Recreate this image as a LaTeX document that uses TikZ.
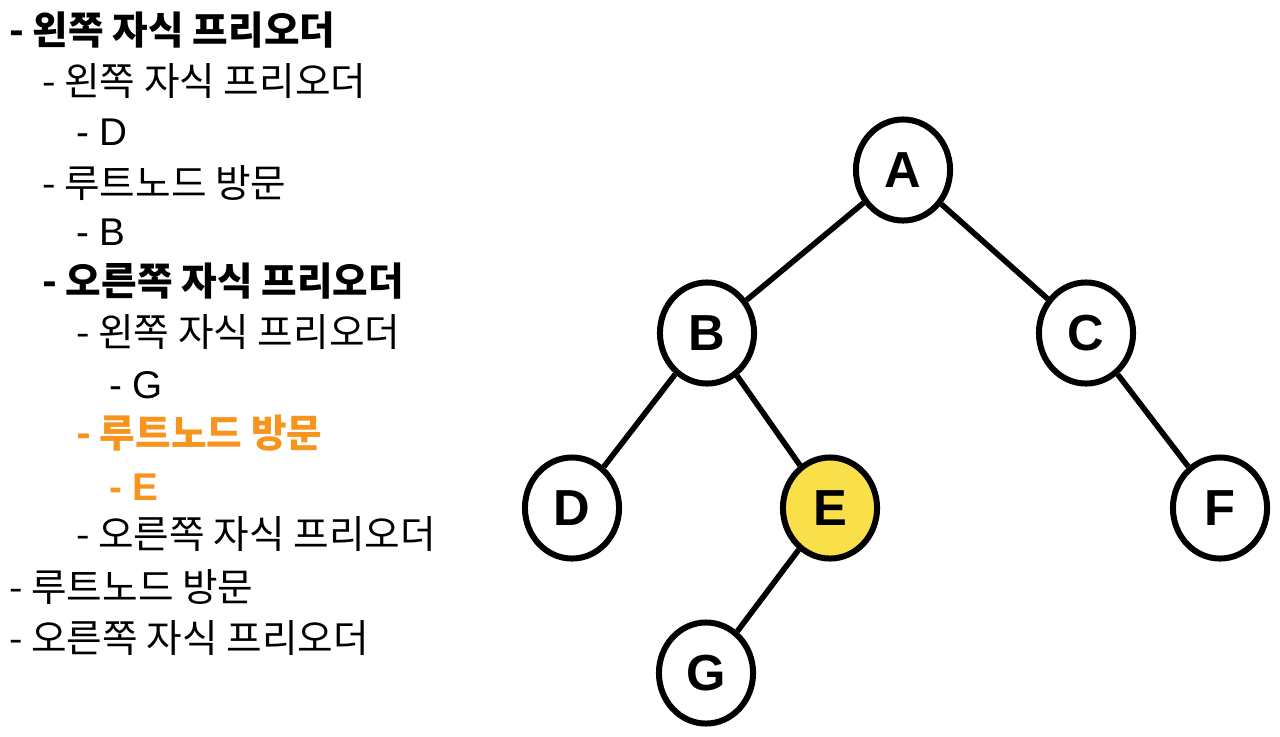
\documentclass[tikz,border=0pt]{standalone}
\usepackage{fontspec}
\setmainfont{Noto Sans CJK KR}
\newfontfamily\latinfont{Liberation Sans}
\definecolor{visitorange}{RGB}{247,148,30}
\definecolor{nodeyellow}{RGB}{249,224,75}
\usepackage{tikz}
\usetikzlibrary{shapes.geometric}

\begin{document}
\begin{tikzpicture}[
            x=0.75pt, y=-0.75pt,
            treenode/.style={draw=black, ellipse, line width=4.5pt, fill=white,
                             minimum width=70.6pt, minimum height=75.8pt, inner sep=0pt,
                             font=\latinfont\bfseries\fontsize{38pt}{40pt}\selectfont},
            edge/.style={line width=4.2pt, color=black},
            listitem/.style={anchor=base west, inner sep=0pt,
                             font=\fontsize{29pt}{32pt}\selectfont},
            boldlist/.style={anchor=base west, inner sep=0pt,
                             font=\bfseries\fontsize{29pt}{32pt}\selectfont},
            letteritem/.style={anchor=base west, inner sep=0pt,
                             font=\latinfont\fontsize{29pt}{32pt}\selectfont},
            visit/.style={text=visitorange}
          ]
          \useasboundingbox (0,0) rectangle (1280,736);
          % traversal steps
          \node[boldlist]   (item1)  at (9,44)    {- 왼쪽 자식 프리오더};
          \node[listitem]   (item2)  at (42,95)   {- 왼쪽 자식 프리오더};
          \node[letteritem] (item3)  at (76,145)  {- D};
          \node[listitem]   (item4)  at (42,197)  {- 루트노드 방문};
          \node[letteritem] (item5)  at (76,245)  {- B};
          \node[boldlist]   (item6)  at (42,295)  {- 오른쪽 자식 프리오더};
          \node[listitem]   (item7)  at (76,346)  {- 왼쪽 자식 프리오더};
          \node[letteritem] (item8)  at (109,398) {- G};
          \node[boldlist, visit] (item9) at (76,447) {- 루트노드 방문};
          \node[letteritem, visit, font=\latinfont\bfseries\fontsize{29pt}{32pt}\selectfont]
                            (item10) at (109,500) {- E};
          \node[listitem]   (item11) at (76,548)  {- 오른쪽 자식 프리오더};
          \node[listitem]   (item12) at (9,601)   {- 루트노드 방문};
          \node[listitem]   (item13) at (9,652)   {- 오른쪽 자식 프리오더};
          % tree
          \node[treenode] (A) at (903,170)  {A};
          \node[treenode] (B) at (707,333)  {B};
          \node[treenode] (C) at (1086,333) {C};
          \node[treenode] (D) at (572,508)  {D};
          \node[treenode, fill=nodeyellow] (E) at (830,508) {E};
          \node[treenode] (F) at (1220,508) {F};
          \node[treenode] (G) at (706,673)  {G};
          \draw[edge] (A)--(B);
          \draw[edge] (A)--(C);
          \draw[edge] (B)--(D);
          \draw[edge] (B)--(E);
          \draw[edge] (C)--(F);
          \draw[edge] (E)--(G);
        \end{tikzpicture}
\end{document}
